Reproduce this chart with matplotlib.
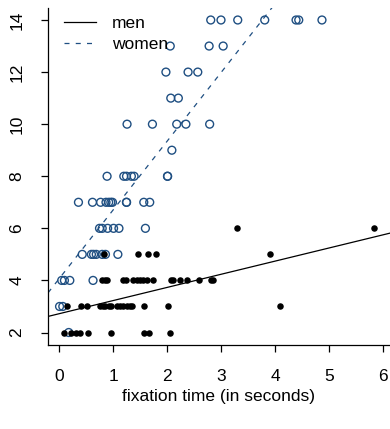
import matplotlib
matplotlib.use("Agg")
import matplotlib.pyplot as plt

plt.rcParams['font.family'] = ['Liberation Sans', 'DejaVu Sans']

# fixation time (s) and score
men_time = [0.10, 0.22, 0.32, 0.38, 0.54, 0.96, 1.58, 1.66, 2.06,
            0.15, 0.41, 0.52, 0.75, 0.81, 0.86, 0.92, 0.96, 1.07, 1.13, 1.19, 1.25, 1.31, 1.36, 1.57, 2.02, 4.09,
            0.80, 0.86, 0.89, 1.19, 1.24, 1.37, 1.44, 1.50, 1.56, 1.63, 1.74, 2.07, 2.11, 2.24, 2.37, 2.59, 2.81, 2.85,
            0.84, 1.47, 1.65, 1.80, 3.90,
            3.30, 5.83]
men_score = [2] * 9 + [3] * 17 + [4] * 18 + [5] * 5 + [6] * 2

women_time = [0.18,
              0.01, 0.07,
              0.05, 0.10, 0.20, 0.63,
              0.43, 0.60, 0.64, 0.69, 0.80, 0.86, 1.09,
              0.75, 0.80, 0.90, 1.01, 1.11, 1.60,
              0.36, 0.62, 0.77, 0.87, 0.92, 0.96, 0.99, 1.25, 1.25, 1.57, 1.68,
              0.89, 1.20, 1.25, 1.34, 1.39, 2.01, 2.01,
              2.09,
              1.26, 1.73, 2.18, 2.35, 2.79,
              2.07, 2.21,
              1.98, 2.39, 2.57,
              2.06, 2.78, 3.04,
              2.81, 3.00, 3.31, 3.81, 4.39, 4.44, 4.87]
women_score = ([2] + [3] * 2 + [4] * 4 + [5] * 7 + [6] * 6 + [7] * 11 + [8] * 7 +
               [9] + [10] * 5 + [11] * 2 + [12] * 3 + [13] * 3 + [14] * 7)

# fitted lines (intercept, slope)
men_fit = (2.72, 0.505)
women_fit = (4.06, 2.64)

blue = '#1f4f82'

fig = plt.figure(figsize=(3.9, 4.29), dpi=100)
ax = fig.add_axes([48 / 390, 84 / 429, 1 - 48 / 390, 337.5 / 429])

ax.scatter(women_time, women_score, s=32, facecolors='none', edgecolors=blue,
           linewidths=1.0, zorder=3)
ax.scatter(men_time, men_score, s=22, color='black', linewidths=0, zorder=3)

ax.axline((0, men_fit[0]), slope=men_fit[1], color='black', lw=0.9, label='men')
ax.axline((0, women_fit[0]), slope=women_fit[1], color=blue, lw=0.9,
          ls=(0, (4, 5)), label='women')

ax.set_xlim(-0.204, 6.13)
ax.set_ylim(1.52, 14.48)
ax.set_xticks(range(0, 7))
ax.set_yticks(range(2, 15, 2))
ax.spines['top'].set_visible(False)
ax.spines['right'].set_visible(False)
for s in ('left', 'bottom'):
    ax.spines[s].set_linewidth(0.9)
ax.tick_params(direction='out', length=5, width=0.9, labelsize=12.5)
ax.tick_params(axis='x', pad=12)
ax.tick_params(axis='y', pad=12)
for lab in ax.get_yticklabels():
    lab.set_rotation(90)
    lab.set_va('center')

ax.set_xlabel('fixation time (in seconds)', fontsize=12.5, labelpad=4)

ax.legend(loc='upper left', bbox_to_anchor=(0.047, 0.975), frameon=False,
          fontsize=12.5, handlelength=1.85, handletextpad=0.9,
          borderpad=0, borderaxespad=0, labelspacing=0.35)

fig.savefig('out.png', dpi=100)
